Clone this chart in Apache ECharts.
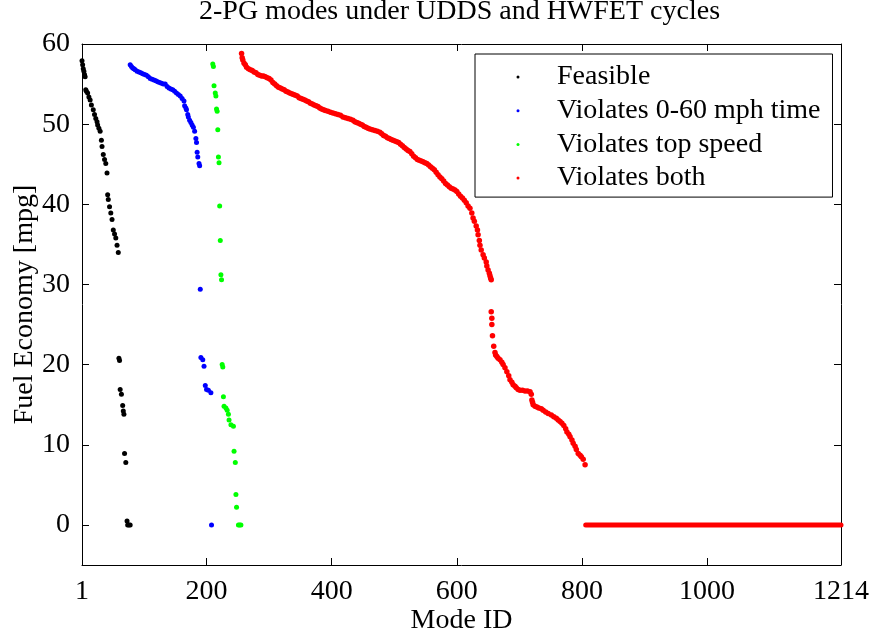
<!DOCTYPE html>
<html>
<head>
<meta charset="utf-8">
<script src="https://cdn.jsdelivr.net/npm/echarts@6/dist/echarts.min.js"></script>
<style>
html, body { margin: 0; padding: 0; background: #ffffff; }
#chart { width: 874px; height: 636px; }
</style>
</head>
<body>
<div id="chart"></div>
<script>
// Tick positions on both axes
const xTicks = [1, 200, 400, 600, 800, 1000, 1214];
const yTicks = [0, 10, 20, 30, 40, 50, 60];

const seriesNames = ['Feasible', 'Violates 0-60 mph time', 'Violates top speed', 'Violates both'];

// Feasible modes: mode ID and fuel economy [mpg]
const feasibleIds = [1, 2, 3, 4, 5, 6, 7, 8, 10, 12, 14, 16, 19, 21, 23, 25, 26, 28, 30, 32, 33, 35, 37, 39, 41, 42, 43, 45, 47, 49, 51, 53, 55, 57, 59,
  60, 61, 62, 64, 66, 67, 68, 69, 71, 73, 74, 76, 78];
const feasibleMpg = [57.9, 57.4, 56.9, 56.6, 56.2, 55.9, 54.3, 54.1, 53.9, 53.4, 53.0, 52.4, 51.8, 51.2, 50.7, 50.3, 49.9, 49.5, 49.1, 48.0, 47.2, 46.2, 45.6, 45.1, 43.9, 41.2, 40.6, 39.7, 38.9, 38.1, 36.8, 36.3, 35.8, 34.9, 34.0,
  20.8, 20.5, 16.9, 16.3, 14.9, 14.2, 13.8, 8.9, 7.8, 0.5, 0.0, 0.0, 0.0];

// Modes violating the 0-60 mph time
const accelIds = [78, 80, 82, 84, 86, 89, 92, 95, 98, 101, 104, 107, 110, 113, 116, 119, 122, 125, 128, 131, 134, 137, 140, 143, 146, 149, 152, 155, 158, 161, 164,
  165, 167, 168, 170, 171, 173, 175, 177, 179, 181, 183, 184, 185, 186, 188, 189,
  190, 191, 194, 196, 198, 200, 203, 207, 208];
const accelMpg = [57.4, 57.2, 57.0, 56.9, 56.8, 56.6, 56.5, 56.4, 56.3, 56.2, 56.1, 55.9, 55.7, 55.6, 55.5, 55.4, 55.3, 55.2, 55.1, 55.0, 55.0, 54.7, 54.5, 54.4, 54.3, 54.1, 53.9, 53.7, 53.5, 53.2, 52.9,
  52.3, 52.0, 51.8, 51.2, 50.9, 50.5, 50.2, 49.9, 49.6, 49.1, 48.2, 47.7, 46.5, 45.9, 45.1, 44.8,
  29.4, 20.9, 20.6, 19.8, 17.4, 16.9, 16.8, 16.5, 0.0];

// Modes violating the top speed
const speedIds = [210, 211, 212, 214, 215, 216, 217, 218, 219, 220, 221, 222, 223, 224, 225, 226, 227, 228, 231, 233, 235, 236, 239, 243, 244, 246, 247, 248, 251, 253, 255];
const speedMpg = [57.5, 57.2, 54.8, 53.9, 53.5, 51.9, 51.6, 49.3, 45.9, 45.2, 39.8, 35.5, 31.2, 30.6, 20.0, 19.7, 16.0, 14.8, 14.6, 14.3, 13.8, 13.1, 12.5, 12.3, 9.2, 7.8, 3.8, 2.2, 0.0, 0.0, 0.0];

// Modes violating both requirements (non-zero part)
const bothIds = [256, 257, 258, 260, 262, 264, 267, 270, 273, 276, 279, 282, 285, 288, 291, 294, 297, 300, 303, 306, 309, 312, 315, 318, 321, 324, 327, 330,
  333, 336, 339, 342, 345, 348, 351, 354, 357, 360, 363, 366, 369, 372, 375, 378, 381, 384, 387, 390, 394, 398, 402, 406, 410, 414, 418, 422, 426, 430,
  434, 437, 440, 443, 446, 449, 452, 455, 458, 461, 465, 469, 473, 477, 480, 483, 486, 489, 492, 495, 498, 501, 504, 507, 510, 513, 516, 519, 522, 525,
  528, 531, 534, 537, 540, 543, 546, 549, 552, 555, 558, 561, 564, 567, 570, 573, 576, 579, 582, 585, 588, 591, 594, 597, 600, 603, 606, 609, 612, 615,
  618, 621, 624, 626, 628, 631, 633, 634, 636, 637, 639, 642, 644, 647, 648, 650, 652, 653, 654, 655, 655, 656, 656, 657, 659, 661, 662, 664, 666, 669,
  672, 674, 677, 680, 683, 685, 688, 690, 693, 695, 698, 701, 705, 709, 713, 717, 719, 720, 721, 722, 725, 728, 731, 735, 738, 742, 746, 751, 755, 759,
  762, 765, 768, 771, 774, 776, 779, 781, 784, 786, 789, 791, 794, 797, 799, 802, 805];
const bothMpg = [58.8, 58.3, 58.0, 57.6, 57.4, 57.1, 56.9, 56.8, 56.7, 56.5, 56.4, 56.2, 56.1, 56.0, 56.0, 55.9, 55.8, 55.7, 55.5, 55.2, 55.0, 54.8, 54.6, 54.5, 54.4, 54.3, 54.1, 54.0,
  53.9, 53.8, 53.7, 53.6, 53.5, 53.3, 53.2, 53.1, 53.0, 52.9, 52.8, 52.6, 52.5, 52.4, 52.3, 52.2, 52.0, 51.9, 51.8, 51.7, 51.6, 51.5, 51.4, 51.3, 51.2, 51.1, 50.9, 50.8, 50.7, 50.6,
  50.5, 50.3, 50.2, 50.1, 50.0, 49.9, 49.7, 49.6, 49.5, 49.4, 49.3, 49.2, 49.1, 49.0, 48.8, 48.6, 48.5, 48.3, 48.2, 48.1, 48.0, 47.9, 47.8, 47.7, 47.5, 47.3, 47.1, 46.9, 46.7, 46.6,
  46.3, 46.0, 45.8, 45.6, 45.5, 45.4, 45.3, 45.2, 45.1, 44.9, 44.7, 44.5, 44.3, 44.0, 43.7, 43.4, 43.2, 42.9, 42.6, 42.4, 42.2, 42.0, 41.9, 41.8, 41.6, 41.3, 41.0, 40.8, 40.5, 40.2,
  39.8, 39.5, 38.9, 38.3, 37.9, 37.3, 36.8, 36.2, 35.5, 34.9, 34.3, 33.7, 33.3, 32.8, 32.3, 31.8, 31.4, 31.1, 30.8, 30.6, 26.6, 25.8, 25.0, 23.6, 22.3, 21.5, 21.2, 21.0, 20.8, 20.6,
  20.3, 20.0, 19.6, 19.1, 18.6, 18.1, 17.8, 17.5, 17.3, 17.1, 16.9, 16.8, 16.8, 16.7, 16.7, 16.6, 16.3, 15.6, 15.3, 15.0, 14.8, 14.7, 14.6, 14.5, 14.3, 14.1, 13.9, 13.7, 13.5, 13.3,
  13.1, 12.9, 12.7, 12.4, 12.0, 11.6, 11.3, 11.0, 10.6, 10.2, 9.8, 9.4, 8.9, 8.7, 8.5, 8.2, 7.5];

// Zero-economy run of the same class: first and last mode ID
const bothZeroIds = [806, 1214];

const FONT = '"Liberation Serif", "Times New Roman", serif';
const pairs = (ids, vals) => ids.map((id, i) => [id, vals[i]]);

const chart = echarts.init(document.getElementById('chart'), null, { renderer: 'canvas' });

const dotSeries = (name, ids, vals, color, size) => ({
  name, type: 'scatter', data: pairs(ids, vals),
  symbol: 'circle', symbolSize: size,
  itemStyle: { color, opacity: 1 },
  emphasis: { disabled: true },
  animation: false
});

const axisText = { fontFamily: FONT, fontSize: 28, color: '#000' };
const plainNumber = v => String(v);

const frameAxis = (extra) => Object.assign({
  type: 'value',
  axisLine: { show: true, onZero: false, lineStyle: { color: '#000', width: 1 } },
  splitLine: { show: false },
  nameMoveOverlap: false
}, extra);

chart.setOption({
  backgroundColor: '#ffffff',
  animation: false,
  title: {
    text: '2-PG modes under UDDS and HWFET cycles',
    left: 199, top: -2, padding: 0,
    textStyle: { fontFamily: FONT, fontSize: 28, fontWeight: 'normal', color: '#000' }
  },
  grid: { left: 82, right: 33, top: 44, bottom: 71, outerBoundsMode: 'none', containLabel: false },
  legend: {
    data: seriesNames.map(n => ({ name: n, icon: 'circle' })),
    orient: 'vertical', left: 475, top: 54,
    padding: [9, 12, 5, 41.5],
    itemWidth: 3, itemHeight: 3, itemGap: 5.7,
    borderColor: '#000', borderWidth: 1, backgroundColor: '#ffffff',
    textStyle: { fontFamily: FONT, fontSize: 28, color: '#000', padding: [0, 0, 0, 32.5] },
    selectedMode: false
  },
  xAxis: [
    frameAxis({
      min: 1, max: 1214, position: 'bottom',
      name: 'Mode ID', nameLocation: 'middle', nameGap: 42, nameTextStyle: axisText,
      axisTick: { show: true, inside: true, length: 7, customValues: xTicks, lineStyle: { color: '#000' } },
      axisLabel: Object.assign({ customValues: xTicks, margin: 13, formatter: plainNumber }, axisText)
    }),
    frameAxis({
      min: 1, max: 1214, position: 'top',
      axisTick: { show: true, inside: true, length: 7, customValues: xTicks, lineStyle: { color: '#000' } },
      axisLabel: { show: false }
    })
  ],
  yAxis: [
    frameAxis({
      min: -5, max: 60, position: 'left',
      name: 'Fuel Economy [mpg]', nameLocation: 'middle', nameGap: 43, nameTextStyle: axisText,
      axisTick: { show: true, inside: true, length: 7, customValues: yTicks, lineStyle: { color: '#000' } },
      axisLabel: Object.assign({ customValues: yTicks, margin: 12, formatter: plainNumber }, axisText)
    }),
    frameAxis({
      min: -5, max: 60, position: 'right',
      axisTick: { show: true, inside: true, length: 7, customValues: yTicks, lineStyle: { color: '#000' } },
      axisLabel: { show: false }
    })
  ],
  series: [
    dotSeries(seriesNames[0], feasibleIds, feasibleMpg, '#000000', 5),
    dotSeries(seriesNames[1], accelIds, accelMpg, '#0000ff', 5),
    dotSeries(seriesNames[2], speedIds, speedMpg, '#00ff00', 5),
    dotSeries(seriesNames[3], bothIds, bothMpg, '#ff0000', 5.5),
    {
      name: seriesNames[3], type: 'line',
      data: bothZeroIds.map(id => [id, 0]),
      showSymbol: false, symbol: 'none',
      lineStyle: { color: '#ff0000', width: 5, cap: 'round' },
      itemStyle: { color: '#ff0000' },
      emphasis: { disabled: true },
      animation: false
    }
  ]
});
</script>
</body>
</html>
